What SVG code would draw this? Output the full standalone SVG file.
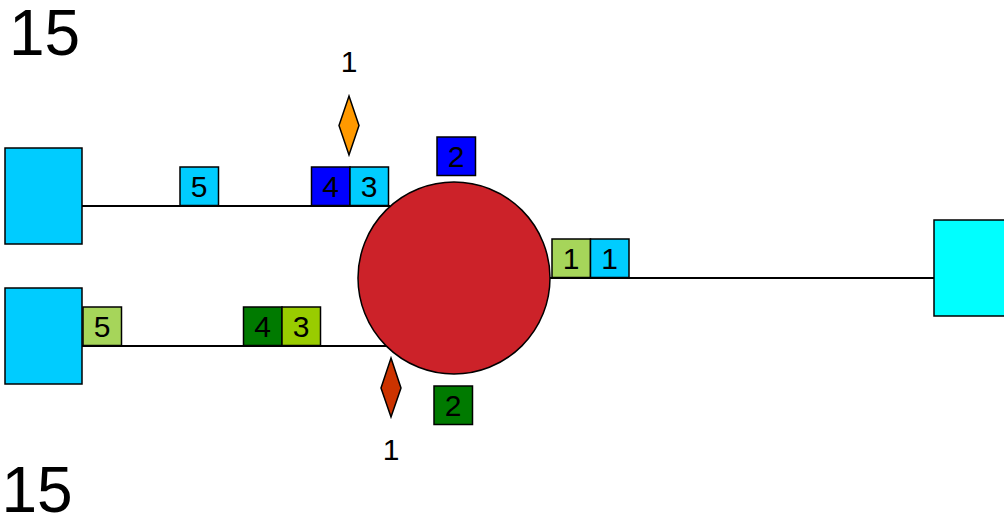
<svg xmlns="http://www.w3.org/2000/svg" width="1004" height="520" viewBox="0 0 1004 520">
<style>
.t{font-family:"Liberation Sans",Arial,sans-serif;fill:#000}
.big{font-size:64px}
.d{font-size:30px;text-anchor:middle}
.box{stroke:#000;stroke-width:1.5}
.ln{stroke:#000;stroke-width:2;fill:none}
</style>
<rect width="1004" height="520" fill="#fff"/>
<text class="t big" x="9" y="55">15</text>
<text class="t big" x="1.5" y="511.5">15</text>
<g id="connectors">
<line class="ln" x1="82" y1="206" x2="390" y2="206"/>
<line class="ln" x1="82" y1="346" x2="390" y2="346"/>
<line class="ln" x1="550" y1="278" x2="934" y2="278"/>
</g>
<g id="hub"><circle class="box" cx="454" cy="278" r="96" fill="#CC2229"/></g>
<g id="nodeLeftTop"><rect class="box" x="5" y="148" width="77" height="96" fill="#00CCFF"/></g>
<g id="nodeLeftBottom"><rect class="box" x="5" y="288" width="77" height="96" fill="#00CCFF"/></g>
<g id="nodeRight"><rect class="box" x="934" y="220" width="80" height="96" fill="#00FFFF"/></g>
<g id="labelTop5"><rect class="box" x="180" y="167" width="38.5" height="38.5" fill="#00CCFF"/><text class="t d" x="199.2" y="197">5</text></g>
<g id="labelTop4"><rect class="box" x="311.5" y="167" width="38.5" height="38.5" fill="#0000FF"/><text class="t d" x="330.7" y="197">4</text></g>
<g id="labelTop3"><rect class="box" x="350" y="167" width="38.5" height="38.5" fill="#00CCFF"/><text class="t d" x="369.2" y="197">3</text></g>
<g id="labelTop2"><rect class="box" x="437" y="137" width="38.5" height="38.5" fill="#0000FF"/><text class="t d" x="456.2" y="167">2</text></g>
<g id="labelBottom5"><rect class="box" x="83" y="307" width="38.5" height="38.5" fill="#A6D55A"/><text class="t d" x="102.2" y="337">5</text></g>
<g id="labelBottom4"><rect class="box" x="243.5" y="307" width="38.5" height="38.5" fill="#007A00"/><text class="t d" x="262.7" y="337">4</text></g>
<g id="labelBottom3"><rect class="box" x="282" y="307" width="38.5" height="38.5" fill="#99CC00"/><text class="t d" x="301.2" y="337">3</text></g>
<g id="labelBottom2"><rect class="box" x="434" y="386" width="38.5" height="38.5" fill="#007A00"/><text class="t d" x="453.2" y="416">2</text></g>
<g id="labelRight1a"><rect class="box" x="552" y="239" width="38.5" height="38.5" fill="#A6D55A"/><text class="t d" x="571.2" y="269">1</text></g>
<g id="labelRight1b"><rect class="box" x="590.5" y="239" width="38.5" height="38.5" fill="#00CCFF"/><text class="t d" x="609.7" y="269">1</text></g>
<g id="markerTop"><polygon class="box" points="349,96 359,125.5 349,155 339,125.5" fill="#FF9900"/><text class="t d" x="349" y="72">1</text></g>
<g id="markerBottom"><polygon class="box" points="391,358 401,388 391,417 381,388" fill="#CC3300"/><text class="t d" x="391" y="460">1</text></g>
</svg>
